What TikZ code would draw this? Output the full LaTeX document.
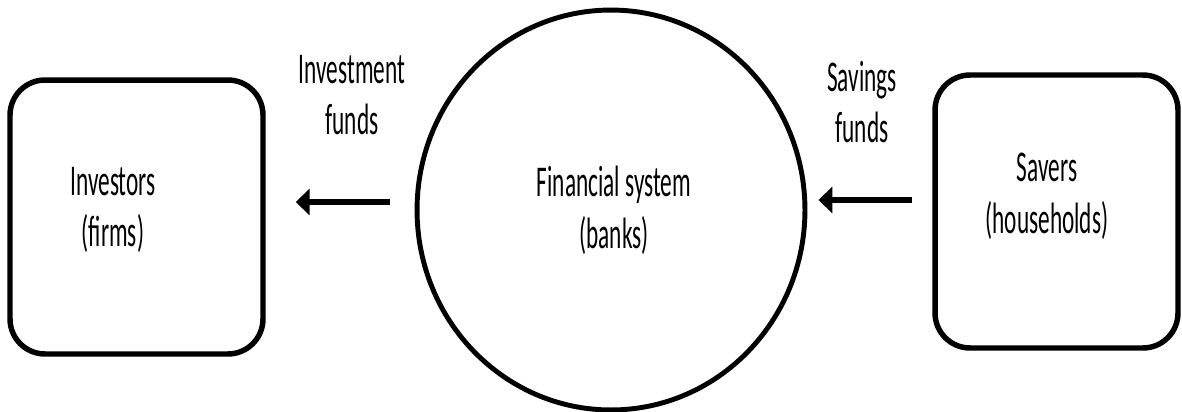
\documentclass[tikz,border=0pt]{standalone}
\usepackage{fontspec}
\usetikzlibrary{arrows.meta,calc,shapes.geometric}
\newfontfamily\lblfont[FakeStretch=0.53]{Carlito}

\begin{document}
\begin{tikzpicture}[x=0.02cm, y=-0.02cm,
  lbl/.style={align=center, font=\lblfont\fontsize{25}{29.5}\selectfont},
  party/.style={draw, line width=3.1pt, rounded corners=0.7cm, minimum width=#1},
  flow/.style={line width=3pt, -{Triangle[length=0.28cm, width=0.52cm]}}]
\useasboundingbox (0,0) rectangle (1182,412);

% boxes and the bank
\node[party=5.06cm, minimum height=5.48cm] (inv) at (136.5,217) {};
\node[party=4.86cm, minimum height=5.46cm] (sav) at (1056.5,211.5) {};
\node[draw, ellipse, line width=2.8pt, minimum width=7.76cm, minimum height=8cm] (fin) at (611,210) {};

\node[lbl] (invtxt) at (113,210) {Investors\\(firms)};
\node[lbl] (savtxt) at (1047,196) {Savers\\(households)};
\node[lbl] (fintxt) at (614,210) {Financial system\\(banks)};

\node[lbl] (invfunds) at (352,95) {Investment\\funds};
\node[lbl] (savfunds) at (862,102) {Savings\\funds};

% flows
\draw[flow] ($(fin.west)+(-25,-8)$) -- ($(inv.east)+(30,-15)$);
\draw[flow] ($(sav.west)+(-20,-11.5)$) -- ($(fin.east)+(11,-10)$);
\end{tikzpicture}
\end{document}
